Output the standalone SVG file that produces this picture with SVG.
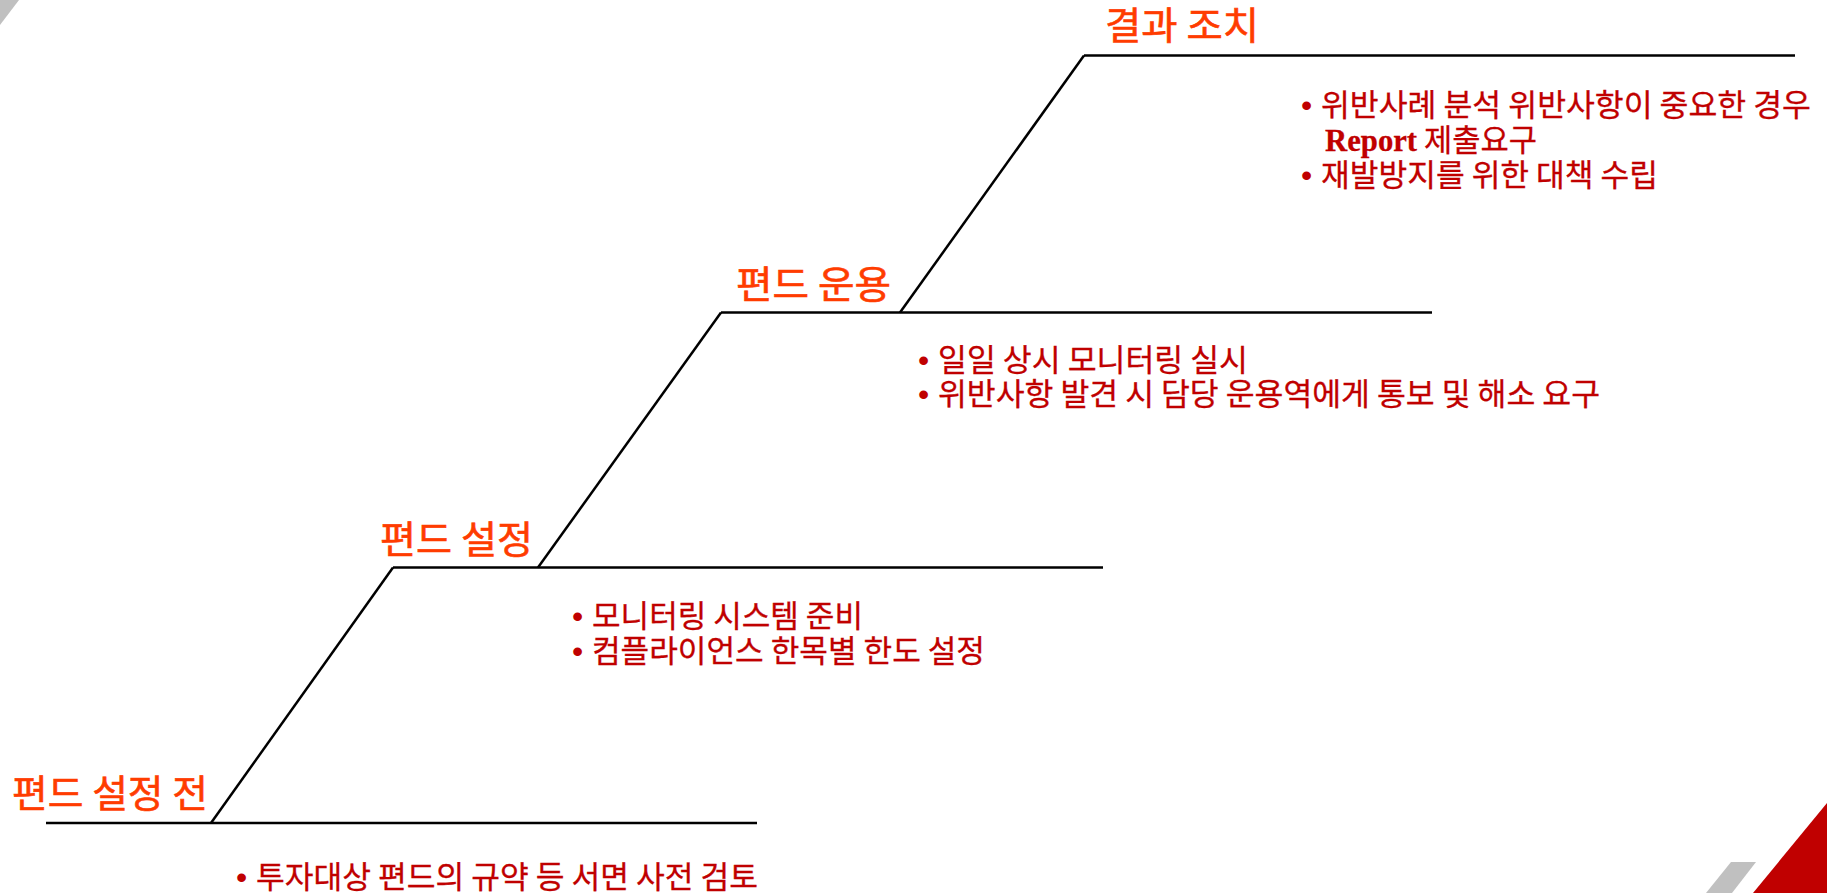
<svg xmlns="http://www.w3.org/2000/svg" width="1827" height="893" viewBox="0 0 1827 893">
  <style>
    .step { stroke: #000; stroke-width: 2.5; fill: none; stroke-linecap: butt; }
    .title { font-family: "Noto Sans CJK KR", "Liberation Sans", sans-serif; font-size: 38px; fill: #FF3C00; stroke: #FF3C00; stroke-width: 0.6; }
    .body { font-family: "Noto Sans CJK KR", "Liberation Sans", sans-serif; font-size: 31px; fill: #C00000; stroke: #C00000; stroke-width: 0.3; }
    .bullet { font-family: "Liberation Sans", sans-serif; font-size: 32px; fill: #C00000; }
    .serif { font-family: "Liberation Serif", serif; font-weight: bold; }
  </style>
  <rect width="1827" height="893" fill="#FFFFFF"/>
  <g id="decor">
    <polygon points="0,0 19,0 0,25" fill="#C0C0C0"/>
    <polygon points="1731,862 1756,862 1732,893 1706,893" fill="#C0C0C0"/>
    <polygon points="1827,803 1827,893 1753,893" fill="#C00000"/>
  </g>
  <g id="stage1">
    <line class="step" x1="46" y1="823" x2="757" y2="823"/>
    <text class="title" x="12" y="807" textLength="196" lengthAdjust="spacingAndGlyphs">편드 설정 전</text>
    <text class="bullet" x="236" y="888">•</text>
    <text class="body" x="256" y="888" textLength="502" lengthAdjust="spacingAndGlyphs">투자대상 편드의 규약 등 서면 사전 검토</text>
  </g>
  <g id="stage2">
    <line class="step" x1="393" y1="567.5" x2="1103" y2="567.5"/>
    <text class="title" x="380" y="553" textLength="153" lengthAdjust="spacingAndGlyphs">편드 설정</text>
    <text class="bullet" x="572" y="627">•</text>
    <text class="body" x="592" y="627" textLength="271" lengthAdjust="spacingAndGlyphs">모니터링 시스템 준비</text>
    <text class="bullet" x="572" y="662">•</text>
    <text class="body" x="592" y="662" textLength="393" lengthAdjust="spacingAndGlyphs">컴플라이언스 한목별 한도 설정</text>
  </g>
  <g id="stage3">
    <line class="step" x1="721" y1="312.5" x2="1432" y2="312.5"/>
    <text class="title" x="736" y="298" textLength="155" lengthAdjust="spacingAndGlyphs">편드 운용</text>
    <text class="bullet" x="918" y="371">•</text>
    <text class="body" x="938" y="371" textLength="310" lengthAdjust="spacingAndGlyphs">일일 상시 모니터링 실시</text>
    <text class="bullet" x="918" y="405">•</text>
    <text class="body" x="938" y="405" textLength="662" lengthAdjust="spacingAndGlyphs">위반사항 발견 시 담당 운용역에게 통보 및 해소 요구</text>
  </g>
  <g id="stage4">
    <line class="step" x1="1084" y1="55.5" x2="1795" y2="55.5"/>
    <text class="title" x="1105" y="38.5" textLength="154" lengthAdjust="spacingAndGlyphs">결과 조치</text>
    <text class="bullet" x="1301" y="116">•</text>
    <text class="body" x="1321" y="116" textLength="490" lengthAdjust="spacingAndGlyphs">위반사례 분석 위반사항이 중요한 경우</text>
    <text class="body" x="1325" y="151" textLength="212" lengthAdjust="spacingAndGlyphs"><tspan class="serif">Report</tspan> 제출요구</text>
    <text class="bullet" x="1301" y="186">•</text>
    <text class="body" x="1321" y="186" textLength="337" lengthAdjust="spacingAndGlyphs">재발방지를 위한 대책 수립</text>
  </g>
  <g id="connectors">
    <line class="step" x1="211" y1="823" x2="393" y2="567.5"/>
    <line class="step" x1="538" y1="567.5" x2="721" y2="312.5"/>
    <line class="step" x1="900" y1="312.5" x2="1084" y2="55.5"/>
  </g>
</svg>
